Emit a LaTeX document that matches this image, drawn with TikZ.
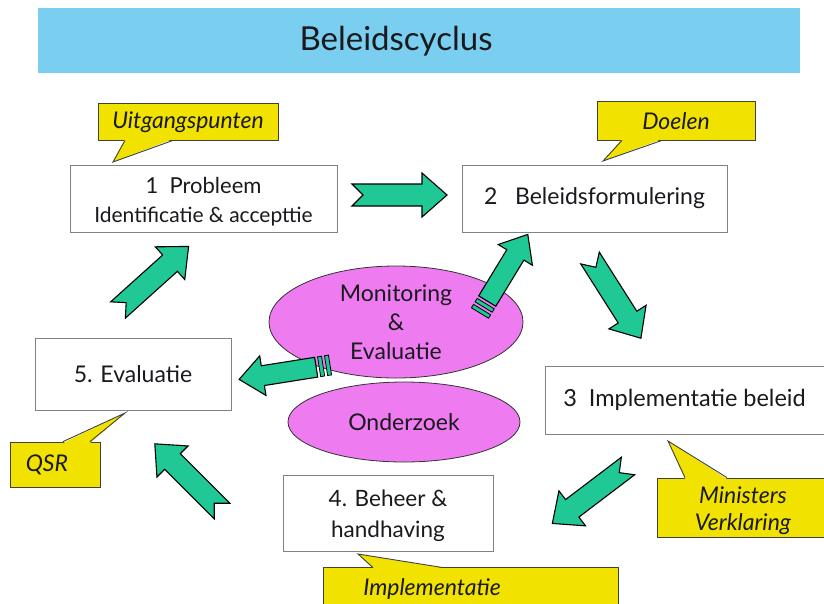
\documentclass[tikz,border=0pt]{standalone}
\usepackage{fontspec}
\setmainfont{Lato}
\usetikzlibrary{shapes.geometric}
\definecolor{bannerblue}{RGB}{122,206,240}
\definecolor{arrowgreen}{RGB}{32,200,150}
\definecolor{callyellow}{RGB}{242,226,0}
\definecolor{ellpink}{RGB}{238,124,240}
\definecolor{boxgray}{RGB}{130,130,130}
\definecolor{txt}{RGB}{25,25,30}
\tikzset{
  stepbox/.style={draw=boxgray, line width=0.8pt, fill=white, align=center, text=txt, inner sep=0pt},
  plaintext/.style={align=center, text=txt, inner sep=0pt},
  calloutbox/.style={draw=black!75, line width=0.9pt, fill=callyellow, inner sep=0pt, align=center,
     font=\fontsize{23}{27}\selectfont\itshape, text=txt},
  calltail/.style={fill=callyellow},
  calledge/.style={draw=black!75, line width=0.9pt},
  blob/.style={ellipse, draw=black!80, line width=0.8pt, fill=ellpink, align=center, text=txt, inner sep=0pt,
     font=\fontsize{23}{29}\selectfont},
  arrowbody/.style={draw=black, line width=1.1pt, fill=arrowgreen, line join=miter},
  notcharrow/.pic={
    \draw[arrowbody] (0,-11) -- (70,-11) -- (70,-22) -- (95,0) -- (70,22) -- (70,11) -- (0,11) -- (11,0) -- cycle;
  },
  stripearrow/.pic={
    \draw[arrowbody] (14,-10) -- (68,-10) -- (68,-20) -- (92,0) -- (68,20) -- (68,10) -- (14,10) -- cycle;
    \draw[arrowbody, line width=0.8pt] (0,-10) rectangle (4,10);
    \draw[arrowbody, line width=0.8pt] (7,-10) rectangle (11,10);
  }
}
\begin{document}
\begin{tikzpicture}[x=1pt,y=-1pt]
\useasboundingbox (0,0) rectangle (824,603);
\fill[white] (0,0) rectangle (824,603);

% banner
\fill[bannerblue] (38,8) rectangle (800,73);
\node[font=\fontsize{33}{40}\selectfont, text=txt, inner sep=0pt] (title) at (396,41) {Beleidscyclus};

% boxes
\node[stepbox, minimum width=267, minimum height=67] (p1) at (203.5,198.5) {};
\node[plaintext, font=\fontsize{21}{29}\selectfont] (p1t) at (203.5,201.5)
  {{\fontsize{22}{29}\selectfont 1\ \ Probleem}\\Identificatie \& accepttie};
\node[stepbox, minimum width=265, minimum height=67, font=\fontsize{23}{28}\selectfont] (p2) at (594.5,198.5)
  {2\ \ \ Beleidsformulering};
\node[stepbox, minimum width=279, minimum height=68, font=\fontsize{23.5}{28}\selectfont] (p3) at (684.5,400)
  {3\ \ Implementatie beleid};
\node[stepbox, minimum width=210, minimum height=76] (p4) at (388,513) {};
\node[plaintext, font=\fontsize{22.5}{31}\selectfont] (p4t) at (388,516) {4. Beheer \&\\handhaving};
\node[stepbox, minimum width=196, minimum height=72, font=\fontsize{23}{28}\selectfont] (p5) at (133,374)
  {5. Evaluatie};

% callouts
\node[calloutbox, minimum width=180, minimum height=37] (c1) at (188,122) {Uitgangspunten};
\fill[calltail] (125,139) -- (113,162) -- (173,139) -- cycle;
\draw[calledge] (125,140.4) -- (113,162) -- (173,140.4);

\node[calloutbox, minimum width=158, minimum height=39] (c2) at (676,121) {Doelen};
\fill[calltail] (622,139) -- (603,161) -- (662,139) -- cycle;
\draw[calledge] (622,140.4) -- (603,161) -- (662,140.4);

\node[calloutbox, minimum width=168, minimum height=59] (c3) at (741,507.5) {};
\node[plaintext, font=\fontsize{23}{27}\selectfont\itshape] (c3t) at (743,511) {Ministers\\Verklaring};
\fill[calltail] (685,479) -- (668,441) -- (727,479) -- cycle;
\draw[calledge] (685,477.6) -- (668,441) -- (727,477.6);

\node[calloutbox, minimum width=295, minimum height=44] (c4) at (470.5,589) {\hspace*{-77pt}Implementatie};
\fill[calltail] (373,568) -- (358,554) -- (443,568) -- cycle;
\draw[calledge] (373,567.6) -- (358,554) -- (443,567.6);

\node[calloutbox, minimum width=90, minimum height=45] (c5) at (55,464.5) {\hspace*{-16pt}QSR};
\fill[calltail] (63,443) -- (125,413) -- (90,443) -- cycle;
\draw[calledge] (63,441.6) -- (125,413) -- (90,441.6);

% ellipses
\node[blob, minimum width=254, minimum height=112] (me) at (396,322) {Monitoring\\\&\\Evaluatie};
\node[blob, minimum width=232, minimum height=80] (oz) at (404,422) {Onderzoek};

% block arrows
\pic[rotate=0] at (352,195) {notcharrow};
\pic[rotate=-57.6] at (590,258) {notcharrow};
\pic[rotate=-142.8] at (628,466) {notcharrow};
\pic[rotate=135] at (222,511) {notcharrow};
\pic[rotate=42] at (118,310) {notcharrow};
\pic[rotate=58.7] at (480,313) {stripearrow};
\pic[rotate=189] at (330,365) {stripearrow};
\end{tikzpicture}
\end{document}
